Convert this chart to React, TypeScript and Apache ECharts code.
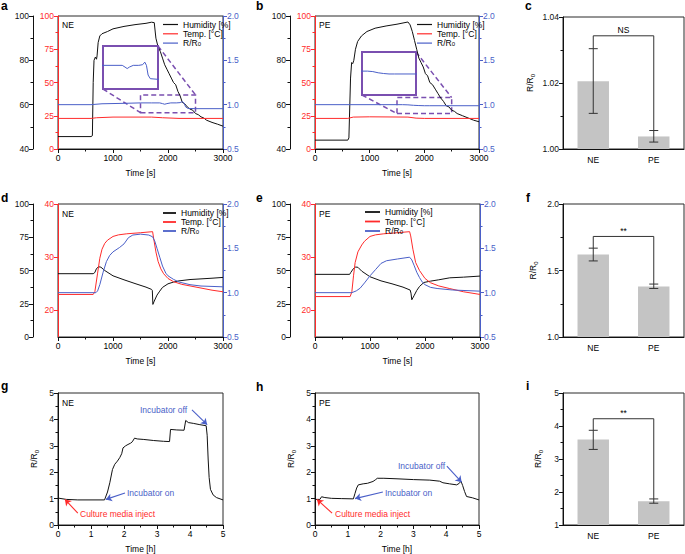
import React, { useEffect, useRef } from 'react';
import * as echarts from 'echarts';

const FONT = '"Liberation Sans", Arial, sans-serif';
const BLACK = '#111111';
const RED = '#ff2b2b';
const BLUE = '#4a5fc8';
const PURPLE = '#7a4fb0';
const BAR = '#c4c4c4';

// ---------- Panel a (NE, humidity step) ----------
const aHumT = [0, 600, 625, 640, 655, 680, 700, 710, 730, 760, 800, 900, 1000, 1200, 1400, 1600, 1700, 1750, 1780, 1820, 1860, 1900, 1940, 1980, 2020, 2060, 2100, 2140, 2180, 2220, 2260, 2300, 2350, 2400, 2450, 2500, 2550, 2600, 2650, 2700, 2800, 2900, 3000];
const aHumV = [45.6, 45.6, 46, 70, 80, 81.5, 80.5, 82, 88, 91, 92, 93, 94.2, 95.3, 96.1, 96.7, 97.2, 97, 90, 86, 84, 81, 78, 76, 74, 72, 70, 69, 66, 64, 61, 60.5, 59, 58, 57.5, 56, 55.5, 54.5, 54, 53, 52, 51.2, 50.3];
const aTempT = [0, 600, 700, 1000, 1700, 1900, 2200, 3000];
const aTempV = [23, 23, 23.5, 24, 24, 23.5, 23, 23];
const aResT = [0, 600, 800, 1200, 1500, 1700, 1850, 1900, 1940, 1980, 2050, 2150, 2220, 2260, 2290, 2320, 2360, 2500, 3000];
const aResV = [1.0, 1.0, 1.01, 1.015, 1.02, 1.02, 1.02, 1.012, 1.005, 1.012, 1.02, 1.02, 1.023, 1.035, 1.02, 0.975, 0.958, 0.955, 0.955];
const aZoomBox = [1500, 2500, 0.91, 1.11];

// ---------- Panel b (PE, humidity step) ----------
const bHumT = [0, 600, 620, 650, 670, 690, 710, 740, 780, 850, 950, 1100, 1300, 1500, 1700, 1740, 1780, 1820, 1860, 1900, 1940, 1980, 2020, 2060, 2100, 2150, 2200, 2250, 2300, 2350, 2400, 2450, 2500, 2550, 2600, 2700, 2800, 2900, 3000];
const bHumV = [44, 44, 45, 72, 79, 78.5, 80, 85, 88.5, 91, 93, 94.5, 95.5, 96.3, 97.3, 96, 93, 89, 85, 81, 79, 77, 74, 73, 70, 69, 67, 65, 63, 61.5, 59.5, 59, 57.5, 57, 56, 55, 54, 53, 52.3];
const bTempT = [0, 600, 700, 1000, 1700, 1850, 2000, 3000];
const bTempV = [23, 23, 24, 24.2, 24, 23.2, 23, 23];
const bResT = [0, 1600, 1700, 1800, 1900, 2000, 2100, 3000];
const bResV = [1.0, 1.0, 0.998, 0.993, 0.99, 0.988, 0.988, 0.988];
const bZoomBox = [1500, 2500, 0.9, 1.08];

// ---------- Panel d (NE, temperature step) ----------
const dHumT = [0, 640, 670, 700, 740, 780, 850, 1000, 1200, 1400, 1600, 1700, 1715, 1725, 1750, 1800, 1850, 1900, 2000, 2100, 2200, 2400, 2600, 2800, 3000];
const dHumV = [47.6, 47.6, 48.5, 51.5, 52.8, 52.5, 50, 46, 43, 40.2, 37.5, 35.8, 35, 24.5, 27, 31.5, 34.5, 37.3, 40, 41.3, 42.2, 43.2, 43.7, 44.2, 44.8];
const dTempT = [0, 640, 670, 720, 760, 800, 850, 900, 1000, 1100, 1250, 1500, 1720, 1740, 1780, 1820, 1870, 1920, 2000, 2100, 2250, 2400, 2600, 2800, 3000];
const dTempV = [23, 23, 23.5, 27, 29.8, 31.5, 32.6, 33.2, 33.9, 34.2, 34.4, 34.6, 34.8, 33.5, 31, 29.2, 27.8, 26.9, 26, 25.4, 24.9, 24.6, 24.2, 23.8, 23.5];
const dResT = [0, 690, 720, 760, 820, 880, 940, 1000, 1120, 1200, 1280, 1360, 1500, 1650, 1720, 1760, 1800, 1850, 1900, 1960, 2000, 2100, 2200, 2400, 2600, 3000];
const dResV = [1.0, 1.0, 1.02, 1.09, 1.23, 1.35, 1.42, 1.46, 1.51, 1.55, 1.62, 1.65, 1.66, 1.65, 1.63, 1.58, 1.5, 1.4, 1.3, 1.22, 1.19, 1.15, 1.12, 1.09, 1.075, 1.066];

// ---------- Panel e (PE, temperature step) ----------
const eHumT = [0, 630, 650, 700, 740, 780, 850, 1000, 1200, 1400, 1600, 1730, 1745, 1760, 1800, 1850, 1900, 1980, 2100, 2250, 2450, 2700, 3000];
const eHumV = [47.1, 47.1, 48.5, 51.5, 52.6, 52.4, 49.5, 45.3, 42.2, 40, 37.5, 35.3, 33, 28, 31, 35, 38, 41, 42, 43, 44.5, 45, 45.8];
const eTempT = [0, 640, 670, 700, 730, 780, 850, 900, 1000, 1100, 1250, 1500, 1720, 1740, 1780, 1830, 1900, 2000, 2100, 2250, 2450, 2700, 3000];
const eTempV = [22.6, 22.6, 23.5, 26.5, 29, 31, 32.3, 33, 33.9, 34.2, 34.4, 34.6, 34.8, 34, 31.5, 29, 27.5, 26, 25.2, 24.6, 24.1, 23.5, 23];
const eResT = [0, 670, 750, 820, 900, 1000, 1100, 1200, 1300, 1500, 1720, 1760, 1800, 1850, 1900, 1950, 2000, 2100, 2220, 2500, 3000];
const eResV = [1.0, 1.0, 1.02, 1.05, 1.11, 1.19, 1.26, 1.33, 1.36, 1.38, 1.4, 1.37, 1.31, 1.23, 1.17, 1.12, 1.09, 1.06, 1.047, 1.03, 1.017];

// ---------- Panel g / h (culture media) ----------
const gT = [0, 0.25, 0.6, 1.0, 1.41, 1.5, 1.57, 1.65, 1.72, 1.8, 1.87, 1.93, 1.97, 2.05, 2.12, 2.2, 2.25, 2.32, 2.4, 2.6, 2.9, 3.2, 3.38, 3.41, 3.6, 3.82, 3.87, 3.95, 4.1, 4.3, 4.49, 4.52, 4.55, 4.58, 4.62, 4.7, 4.8, 5.0];
const gV = [1.02, 0.97, 0.95, 0.95, 0.95, 1.25, 1.6, 2.1, 2.3, 2.42, 2.55, 2.7, 2.92, 3.0, 3.05, 3.1, 3.15, 3.29, 3.26, 3.24, 3.2, 3.17, 3.16, 3.62, 3.6, 3.59, 3.96, 3.88, 3.85, 3.8, 3.76, 3.4, 2.5, 1.8, 1.35, 1.14, 1.04, 0.95];
const hT = [0, 0.15, 0.2, 0.3, 0.5, 0.8, 1.17, 1.22, 1.27, 1.32, 1.47, 1.6, 1.77, 1.85, 1.9, 2.1, 2.5, 3.0, 3.5, 3.8, 3.9, 4.1, 4.32, 4.4, 4.45, 4.5, 4.56, 4.62, 4.8, 5.0];
const hV = [0.97, 0.97, 1.07, 1.04, 1.01, 1.0, 0.99, 1.2, 1.4, 1.52, 1.56, 1.58, 1.65, 1.72, 1.77, 1.77, 1.75, 1.72, 1.7, 1.66, 1.6, 1.56, 1.52, 1.58, 1.66, 1.5, 1.27, 1.08, 1.03, 0.95];
// annotation arrows [x1, y1, x2, y2] (tail -> head)
const gArrowOff = [4.06, 4.36, 4.52, 3.8];
const gArrowOn = [2.03, 1.21, 1.45, 0.97];
const gArrowInject = [0.6, 0.45, 0.21, 0.97];
const hArrowOff = [4.02, 2.23, 4.47, 1.62];
const hArrowOn = [2.07, 1.25, 1.22, 1.0];
const hArrowInject = [0.52, 0.45, 0.06, 0.97];

// ---------- Bar panels ----------
const groups = ['NE', 'PE'];
const cMean = [1.0205, 1.0038];
const cLow = [1.0108, 1.0021];
const cHigh = [1.0304, 1.0056];
const cBracket = 1.0343;
const cSig = 'NS';
const fMean = [1.62, 1.38];
const fLow = [1.572, 1.365];
const fHigh = [1.668, 1.398];
const fBracket = 1.756;
const fSig = '**';
const iMean = [3.59, 1.72];
const iLow = [3.29, 1.66];
const iHigh = [3.87, 1.79];
const iBracket = 4.22;
const iSig = '**';

const legendNames = ['Humidity [%]', 'Temp. [°C]', 'R/R0'];

const zip = (t: number[], v: number[]) => t.map((x, i) => [x, v[i]]);

const labelStyle = (color: string, fmt?: any) => ({
  color,
  fontSize: 8.5,
  fontFamily: FONT,
  margin: 4,
  ...(fmt ? { formatter: fmt } : {}),
});

const rr0Name = 'R/R{s|0}';
const rr0Style = {
  fontSize: 8.5,
  fontFamily: FONT,
  color: '#000',
  lineHeight: 12,
  rich: { s: { fontSize: 6, fontFamily: FONT, verticalAlign: 'bottom', lineHeight: 10 } },
};

const plain = (v: number) => String(v);

function xVal(gridIndex: number, min: number, max: number, interval: number, name: string) {
  return {
    type: 'value',
    gridIndex,
    min,
    max,
    interval,
    name,
    nameLocation: 'middle',
    nameGap: 19,
    nameTextStyle: { fontSize: 8.5, fontFamily: FONT, color: '#000' },
    axisLine: { show: true, onZero: false, lineStyle: { color: BLACK, width: 1 } },
    axisTick: { show: true, length: 4, lineStyle: { color: BLACK } },
    minorTick: { show: true, splitNumber: 2, length: 2.5, lineStyle: { color: BLACK } },
    splitLine: { show: false },
    axisLabel: labelStyle('#000', plain),
  };
}

function yVal(gridIndex: number, min: number, max: number, interval: number, color: string, position: string, offset: number, fmt?: any, extra?: any) {
  return {
    type: 'value',
    gridIndex,
    min,
    max,
    interval,
    position,
    offset,
    axisLine: { show: true, onZero: false, lineStyle: { color, width: 1 } },
    axisTick: { show: true, length: 4, lineStyle: { color } },
    minorTick: { show: true, splitNumber: 2, length: 2.5, lineStyle: { color } },
    splitLine: { show: false },
    axisLabel: labelStyle(color, fmt || plain),
    ...(extra || {}),
  };
}

function hidden(gridIndex: number, min: number, max: number) {
  return { type: 'value', gridIndex, min, max, show: false, splitLine: { show: false } };
}

function catX(gridIndex: number) {
  return {
    type: 'category',
    gridIndex,
    data: groups,
    axisLine: { show: true, lineStyle: { color: BLACK, width: 1 } },
    axisTick: { show: false },
    axisLabel: { ...labelStyle('#000'), margin: 6 },
  };
}

const f1 = (v: number) => v.toFixed(1);
const f2 = (v: number) => v.toFixed(2);
const tempFmt = (v: number) => (v % 10 === 0 ? String(v) : '');

function lineSeries(name: string, xi: number, yi: number, data: any, color: string, extra?: any) {
  return {
    type: 'line',
    name,
    xAxisIndex: xi,
    yAxisIndex: yi,
    data,
    symbol: 'none',
    smooth: false,
    lineStyle: { color, width: 1 },
    itemStyle: { color },
    z: 3,
    ...(extra || {}),
  };
}

function zoomBoxArea(box: number[]) {
  return {
    silent: true,
    itemStyle: { color: 'rgba(0,0,0,0)', borderColor: PURPLE, borderWidth: 1.5, borderType: [5, 3] },
    data: [[{ coord: [box[0], box[2]] }, { coord: [box[1], box[3]] }]],
  };
}

function errorSeries(xi: number, yi: number, low: number[], high: number[]) {
  return {
    type: 'custom',
    xAxisIndex: xi,
    yAxisIndex: yi,
    z: 5,
    data: low.map((l, i) => [i, l, high[i]]),
    encode: { x: 0, y: [1, 2] },
    renderItem: (params: any, api: any) => {
      const x = api.value(0);
      const lo = api.coord([x, api.value(1)]);
      const hi = api.coord([x, api.value(2)]);
      const w = 4.5;
      const st = { stroke: '#333', lineWidth: 1 };
      return {
        type: 'group',
        children: [
          { type: 'line', shape: { x1: lo[0], y1: lo[1], x2: hi[0], y2: hi[1] }, style: st },
          { type: 'line', shape: { x1: lo[0] - w, y1: lo[1], x2: lo[0] + w, y2: lo[1] }, style: st },
          { type: 'line', shape: { x1: hi[0] - w, y1: hi[1], x2: hi[0] + w, y2: hi[1] }, style: st },
        ],
      };
    },
  };
}

function bracketSeries(xi: number, yi: number, high: number[], top: number, label: string) {
  return {
    type: 'custom',
    xAxisIndex: xi,
    yAxisIndex: yi,
    z: 5,
    data: [[0, high[0], high[1], top]],
    encode: { x: 0, y: [1, 2, 3] },
    renderItem: (params: any, api: any) => {
      const p0 = api.coord([0, api.value(1)]);
      const p1 = api.coord([0, api.value(3)]);
      const p2 = api.coord([1, api.value(3)]);
      const p3 = api.coord([1, api.value(2)]);
      return {
        type: 'group',
        children: [
          {
            type: 'polyline',
            shape: { points: [p0, p1, p2, p3] },
            style: { stroke: '#333', lineWidth: 1, fill: 'none' },
          },
          {
            type: 'text',
            x: (p1[0] + p2[0]) / 2,
            y: p1[1] - 1,
            style: {
              text: label,
              fill: '#000',
              font: `8.5px ${FONT}`,
              align: 'center',
              verticalAlign: 'bottom',
            },
          },
        ],
      };
    },
  };
}

function barSeries(xi: number, yi: number, data: number[]) {
  return {
    type: 'bar',
    xAxisIndex: xi,
    yAxisIndex: yi,
    data,
    barWidth: '52%',
    itemStyle: { color: BAR },
    z: 2,
  };
}

function arrowLines(list: { a: number[]; color: string }[]) {
  return {
    silent: true,
    symbol: ['none', 'arrow'],
    symbolSize: 6,
    label: { show: false },
    lineStyle: { width: 1.1, type: 'solid' },
    data: list.map((it) => [
      { coord: [it.a[0], it.a[1]], lineStyle: { color: it.color, width: 1.1, type: 'solid' }, itemStyle: { color: it.color } },
      { coord: [it.a[2], it.a[3]] },
    ]),
  };
}

function legendAt(left: number, top: number, itemWidth: number, gap: number, iconH: number) {
  return {
    data: legendNames,
    left,
    top,
    orient: 'vertical',
    icon: 'rect',
    itemWidth,
    itemHeight: iconH,
    itemGap: gap,
    padding: 0,
    selectedMode: false,
    formatter: (n: string) => (n === 'R/R0' ? 'R/R{s|0}' : n),
    textStyle: {
      fontSize: 8.5,
      fontFamily: FONT,
      color: '#000',
      lineHeight: 8,
      rich: { s: { fontSize: 6, fontFamily: FONT, verticalAlign: 'bottom', lineHeight: 8 } },
    },
  };
}

function txt(x: number, y: number, text: string, opts?: any) {
  return {
    type: 'text',
    x,
    y,
    silent: true,
    style: {
      text,
      fill: '#000',
      font: `8.5px ${FONT}`,
      align: 'left',
      verticalAlign: 'middle',
      ...(opts || {}),
    },
  };
}

function letter(x: number, y: number, t: string) {
  return txt(x, y, t, { font: `bold 12px ${FONT}` });
}

export default function App() {
  const ref = useRef<HTMLDivElement>(null);
  useEffect(() => {
    if (!ref.current) return;
    const chart = echarts.init(ref.current, undefined, { renderer: 'svg' });
    const frame = { show: true, borderColor: '#2a2a2a', borderWidth: 1, backgroundColor: 'transparent' };
    const inset = { show: true, borderColor: PURPLE, borderWidth: 2, backgroundColor: 'transparent' };
    const grids = [
      { left: 58, top: 16, width: 165, height: 133, ...frame },
      { left: 103, top: 46, width: 55, height: 43, ...inset, z: 4 },
      { left: 315, top: 16, width: 164, height: 133, ...frame },
      { left: 362, top: 52, width: 54, height: 43, ...inset, z: 4 },
      { left: 563, top: 17, width: 121, height: 132, ...frame },
      { left: 58, top: 204, width: 165, height: 133, ...frame },
      { left: 315, top: 204, width: 165, height: 133, ...frame },
      { left: 563, top: 204, width: 121, height: 133, ...frame },
      { left: 58, top: 393, width: 165, height: 132, ...frame },
      { left: 315, top: 393, width: 164, height: 132, ...frame },
      { left: 563, top: 393, width: 121, height: 132, ...frame },
    ];
    const redCustom = {
      axisLabel: { ...labelStyle(RED, tempFmt), customValues: [20, 30, 40] },
      axisTick: { show: true, length: 4, lineStyle: { color: RED }, customValues: [20, 30, 40] },
      minorTick: { show: false },
    };
    const rrY = (gi: number, min: number, max: number, interval: number, fmt: any, gap: number) => ({
      ...yVal(gi, min, max, interval, BLACK, 'left', 0, fmt),
      name: rr0Name,
      nameLocation: 'middle',
      nameGap: gap,
      nameRotate: 90,
      nameTextStyle: rr0Style,
    });

    const xAxis = [
      xVal(0, 0, 3000, 1000, 'Time [s]'),
      hidden(1, aZoomBox[0], aZoomBox[1]),
      xVal(2, 0, 3000, 1000, 'Time [s]'),
      hidden(3, bZoomBox[0], bZoomBox[1]),
      catX(4),
      xVal(5, 0, 3000, 1000, 'Time [s]'),
      xVal(6, 0, 3000, 1000, 'Time [s]'),
      catX(7),
      xVal(8, 0, 5, 1, 'Time [h]'),
      xVal(9, 0, 5, 1, 'Time [h]'),
      catX(10),
    ];
    const yAxis = [
      yVal(0, 40, 100, 20, BLACK, 'left', 25),
      yVal(0, 0, 100, 25, RED, 'left', 0),
      yVal(0, 0.5, 2.0, 0.5, BLUE, 'right', 0, f1),
      hidden(1, aZoomBox[2], aZoomBox[3]),
      yVal(2, 40, 100, 20, BLACK, 'left', 25),
      yVal(2, 0, 100, 25, RED, 'left', 0),
      yVal(2, 0.5, 2.0, 0.5, BLUE, 'right', 0, f1),
      hidden(3, bZoomBox[2], bZoomBox[3]),
      rrY(4, 1.0, 1.04, 0.02, f2, 27),
      yVal(5, 0, 100, 25, BLACK, 'left', 25),
      yVal(5, 15, 40, 5, RED, 'left', 0, tempFmt, redCustom),
      yVal(5, 0.5, 2.0, 0.5, BLUE, 'right', 0, f1),
      yVal(6, 0, 100, 25, BLACK, 'left', 25),
      yVal(6, 15, 40, 5, RED, 'left', 0, tempFmt, redCustom),
      yVal(6, 0.5, 2.0, 0.5, BLUE, 'right', 0, f1),
      rrY(7, 1.0, 2.0, 0.5, f1, 24),
      rrY(8, 0, 5, 1, undefined, 18),
      rrY(9, 0, 5, 1, undefined, 18),
      rrY(10, 1, 5, 1, undefined, 19),
    ];

    const series: any[] = [
      // a
      lineSeries('Humidity [%]', 0, 0, zip(aHumT, aHumV), BLACK),
      lineSeries('Temp. [°C]', 0, 1, zip(aTempT, aTempV), RED),
      lineSeries('R/R0', 0, 2, zip(aResT, aResV), BLUE, { markArea: zoomBoxArea(aZoomBox) }),
      lineSeries('insetA', 1, 3, zip(aResT, aResV), BLUE, { z: 6 }),
      // b
      lineSeries('Humidity [%]', 2, 4, zip(bHumT, bHumV), BLACK),
      lineSeries('Temp. [°C]', 2, 5, zip(bTempT, bTempV), RED),
      lineSeries('R/R0', 2, 6, zip(bResT, bResV), BLUE, { markArea: zoomBoxArea(bZoomBox) }),
      lineSeries('insetB', 3, 7, zip(bResT, bResV), BLUE, { z: 6 }),
      // c
      barSeries(4, 8, cMean),
      errorSeries(4, 8, cLow, cHigh),
      bracketSeries(4, 8, cHigh, cBracket, cSig),
      // d
      lineSeries('Humidity [%]', 5, 9, zip(dHumT, dHumV), BLACK),
      lineSeries('Temp. [°C]', 5, 10, zip(dTempT, dTempV), RED),
      lineSeries('R/R0', 5, 11, zip(dResT, dResV), BLUE),
      // e
      lineSeries('Humidity [%]', 6, 12, zip(eHumT, eHumV), BLACK),
      lineSeries('Temp. [°C]', 6, 13, zip(eTempT, eTempV), RED),
      lineSeries('R/R0', 6, 14, zip(eResT, eResV), BLUE),
      // f
      barSeries(7, 15, fMean),
      errorSeries(7, 15, fLow, fHigh),
      bracketSeries(7, 15, fHigh, fBracket, fSig),
      // g
      lineSeries('g', 8, 16, zip(gT, gV), BLACK, {
        markLine: arrowLines([
          { a: gArrowOff, color: BLUE },
          { a: gArrowOn, color: BLUE },
          { a: gArrowInject, color: RED },
        ]),
      }),
      // h
      lineSeries('h', 9, 17, zip(hT, hV), BLACK, {
        markLine: arrowLines([
          { a: hArrowOff, color: BLUE },
          { a: hArrowOn, color: BLUE },
          { a: hArrowInject, color: RED },
        ]),
      }),
      // i
      barSeries(10, 18, iMean),
      errorSeries(10, 18, iLow, iHigh),
      bracketSeries(10, 18, iHigh, iBracket, iSig),
    ];

    const graphic: any[] = [
      letter(1, 6, 'a'),
      letter(256, 6, 'b'),
      letter(525, 6, 'c'),
      letter(1, 198, 'd'),
      letter(256, 198, 'e'),
      letter(526, 198, 'f'),
      letter(1, 386, 'g'),
      letter(256, 387, 'h'),
      letter(526, 386, 'i'),
      txt(62, 25, 'NE'),
      txt(319, 25, 'PE'),
      txt(62, 214, 'NE'),
      txt(319, 214, 'PE'),
      txt(62, 403, 'NE'),
      txt(319, 403, 'PE'),
      txt(140, 410, 'Incubator off', { fill: BLUE }),
      txt(127, 493, 'Incubator on', { fill: BLUE }),
      txt(80, 514, 'Culture media inject', { fill: RED }),
      txt(398, 466, 'Incubator off', { fill: BLUE }),
      txt(385, 493, 'Incubator on', { fill: BLUE }),
      txt(335, 514, 'Culture media inject', { fill: RED }),
    ];

    chart.setOption({
      animation: false,
      textStyle: { fontFamily: FONT },
      grid: grids,
      xAxis,
      yAxis,
      legend: [
        legendAt(163, 20, 15, 0.3, 1.2),
        legendAt(417, 20, 15, 0.3, 1.2),
        legendAt(163, 208.5, 13, 0, 1.8),
        legendAt(365, 207.5, 15, 0.5, 1.8),
      ],
      series,
      graphic,
    });

    // dashed connectors between zoom box and inset
    const conn = (boxPts: number[][], xi: number, yi: number, g: any) => {
      const bl = chart.convertToPixel({ xAxisIndex: xi, yAxisIndex: yi } as any, boxPts[0]) as number[];
      const tr = chart.convertToPixel({ xAxisIndex: xi, yAxisIndex: yi } as any, boxPts[1]) as number[];
      const st = { stroke: PURPLE, lineWidth: 1.5, lineDash: [5, 3] };
      return [
        { type: 'line', silent: true, shape: { x1: g.left, y1: g.top + g.height, x2: bl[0], y2: bl[1] }, style: st },
        { type: 'line', silent: true, shape: { x1: g.left + g.width, y1: g.top, x2: tr[0], y2: tr[1] }, style: st },
      ];
    };
    const extra = [
      ...conn([[aZoomBox[0], aZoomBox[2]], [aZoomBox[1], aZoomBox[3]]], 0, 2, grids[1]),
      ...conn([[bZoomBox[0], bZoomBox[2]], [bZoomBox[1], bZoomBox[3]]], 2, 6, grids[3]),
    ];
    chart.setOption({ graphic: [...graphic, ...extra] });

    return () => chart.dispose();
  }, []);
  return <div ref={ref} style={{ position: 'fixed', left: 0, top: 0, width: 685, height: 554, background: '#fff' }} />;
}
